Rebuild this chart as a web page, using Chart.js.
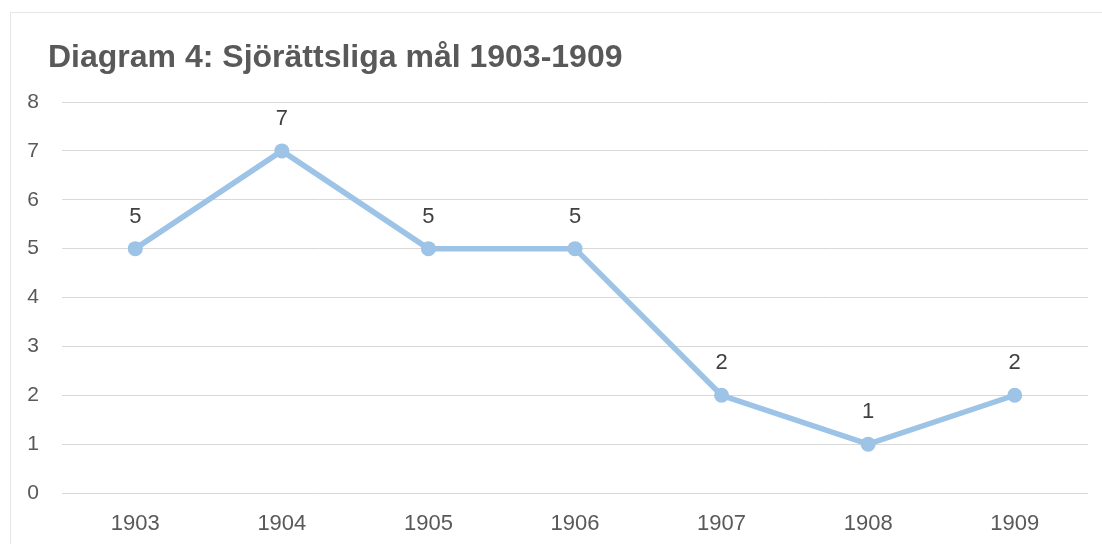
<!DOCTYPE html>
<html>
<head>
<meta charset="utf-8">
<script src="https://cdn.jsdelivr.net/npm/chart.js@4.4.0/dist/chart.umd.min.js"></script>
<style>
  html, body { margin: 0; padding: 0; background: #fff; }
  #wrap { position: relative; width: 1102px; height: 544px; overflow: hidden; }
  #frame { position: absolute; left: 10px; top: 12px; width: 1200px; height: 600px;
           border-top: 1px solid #e6e6e6; border-left: 1px solid #e6e6e6; box-sizing: border-box; }
  #c { position: absolute; left: 0; top: 0; }
</style>
</head>
<body>
<div id="wrap">
  <div id="frame"></div>
  <canvas id="c" width="1102" height="544"></canvas>
</div>
<script>
const titleText = 'Diagram 4: Sjörättsliga mål 1903-1909';
const categories = ['1903', '1904', '1905', '1906', '1907', '1908', '1909'];
const values = [5, 7, 5, 5, 2, 1, 2];
const yTicks = [0, 1, 2, 3, 4, 5, 6, 7, 8];

const FONT = '"Liberation Sans", Arial, sans-serif';

const titlePlugin = {
  id: 'customTitle',
  afterDraw(chart) {
    const ctx = chart.ctx;
    ctx.save();
    ctx.font = 'bold 32px ' + FONT;
    ctx.fillStyle = '#595959';
    ctx.textAlign = 'left';
    ctx.textBaseline = 'alphabetic';
    ctx.fillText(titleText, 48, 66.5);
    ctx.restore();
  }
};

const dataLabels = {
  id: 'dataLabels',
  afterDatasetsDraw(chart) {
    const ctx = chart.ctx;
    const meta = chart.getDatasetMeta(0);
    ctx.save();
    ctx.font = '22px ' + FONT;
    ctx.fillStyle = '#404040';
    ctx.textAlign = 'center';
    ctx.textBaseline = 'middle';
    meta.data.forEach((pt, i) => {
      ctx.fillText(String(values[i]), pt.x, pt.y - 32);
    });
    ctx.restore();
  }
};

new Chart(document.getElementById('c'), {
  type: 'line',
  data: {
    labels: categories,
    datasets: [{
      data: values,
      borderColor: '#9DC3E6',
      backgroundColor: '#9DC3E6',
      borderWidth: 5.5,
      pointRadius: 7.5,
      pointHoverRadius: 7.5,
      pointBorderWidth: 0,
      tension: 0,
      fill: false
    }]
  },
  options: {
    responsive: false,
    animation: false,
    events: [],
    layout: { padding: { top: 102, right: 14, bottom: 0, left: 10 } },
    plugins: { legend: { display: false }, tooltip: { enabled: false }, title: { display: false } },
    scales: {
      x: {
        offset: true,
        grid: { display: false },
        border: { display: false },
        ticks: { color: '#595959', font: { family: FONT, size: 22 }, padding: 10, maxRotation: 0 },
        afterFit(scale) { scale.height = 51; }
      },
      y: {
        min: 0, max: 8,
        afterBuildTicks(scale) { scale.ticks = yTicks.map(v => ({ value: v })); },
        grid: { color: '#d9d9d9', lineWidth: 1, drawTicks: false },
        border: { display: false },
        ticks: { color: '#595959', font: { family: FONT, size: 21 }, padding: 23 },
        afterFit(scale) { scale.width = 52; }
      }
    }
  },
  plugins: [titlePlugin, dataLabels]
});
</script>
</body>
</html>
